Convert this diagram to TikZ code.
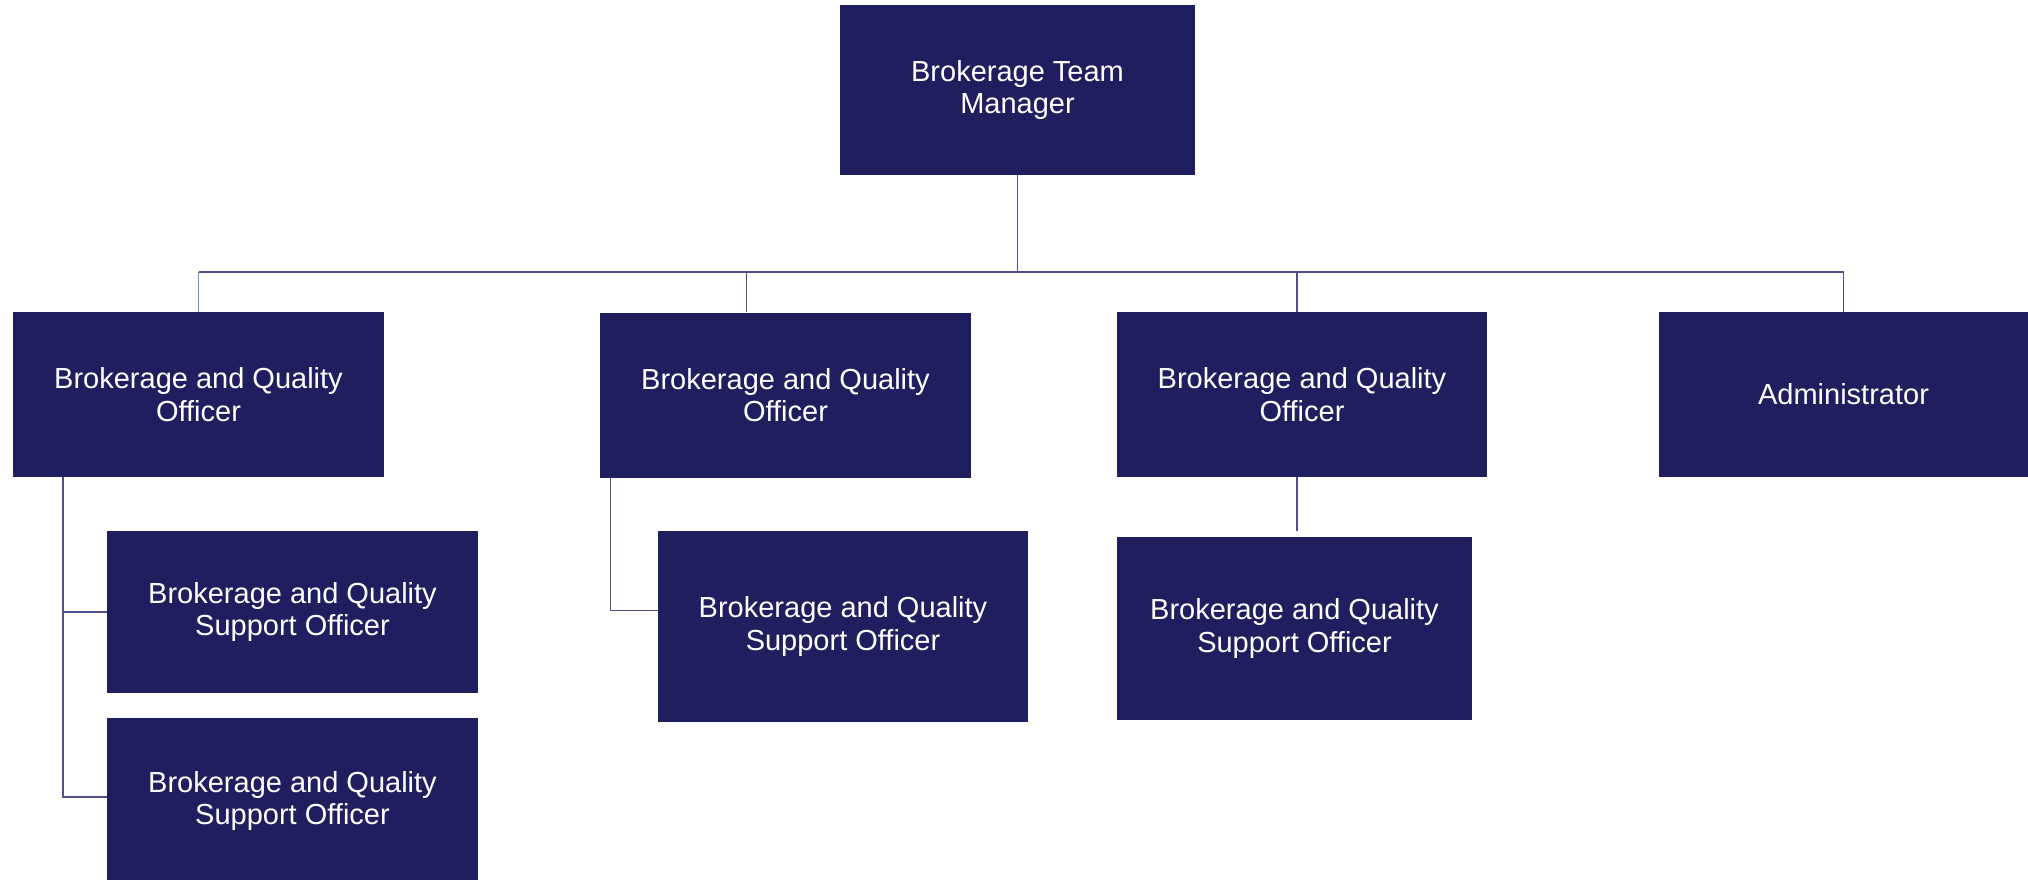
\documentclass[tikz,border=0pt]{standalone}
\usepackage{fontspec}
\setmainfont{Liberation Sans}
\usetikzlibrary{calc}
\definecolor{navy}{RGB}{31,31,96}
\definecolor{linec}{RGB}{78,80,140}
\definecolor{lightc}{RGB}{91,155,213}
\begin{document}
\begin{tikzpicture}[x=1pt,y=-1pt,
  box/.style={fill=navy,text=white,align=center,inner sep=0pt,draw=none,
    font=\fontsize{29}{32.5}\selectfont},
  conn/.style={draw=linec,line width=1.5pt}]
\useasboundingbox (0,0) rectangle (2028,879);
% boxes
\node[box,minimum width=355,minimum height=170] (mgr) at (1017.5,90) {Brokerage Team\\Manager};
\node[box,minimum width=371,minimum height=165] (o1) at (198.5,394.5) {Brokerage and Quality\\Officer};
\node[box,minimum width=371,minimum height=165] (o2) at (785.5,395) {Brokerage and Quality\\Officer};
\node[box,minimum width=370,minimum height=165] (o3) at (1302,394.5) {Brokerage and Quality\\Officer};
\node[box,minimum width=369,minimum height=165] (adm) at (1843.5,394.5) {Administrator};
\node[box,minimum width=371,minimum height=162] (s1) at (292.5,612) {Brokerage and Quality\\Support Officer};
\node[box,minimum width=371,minimum height=166] (s2) at (292.5,801) {Brokerage and Quality\\Support Officer};
\node[box,minimum width=370,minimum height=191] (s3) at (843,626.5) {Brokerage and Quality\\Support Officer};
\node[box,minimum width=355,minimum height=183] (s4) at (1294.5,628.5) {Brokerage and Quality\\Support Officer};
% coordinates
\coordinate (bus) at (1017.5,272);
\coordinate (b1) at (198.5,272);
\coordinate (b2) at (746.5,272);
\coordinate (b3) at (1297,272);
\coordinate (b4) at (1843.5,272);
\coordinate (l1) at (63,477);
\coordinate (l2) at (610.5,477);
\coordinate (l3) at (1297,477);
\coordinate (e3) at (1297,531);
% connectors
\draw[conn] (mgr.south) -- (bus);
\draw[conn] (b1) -- (b4);
\draw[draw=lightc,line width=1.5pt] (b1) -- (b1 |- o1.north);
\draw[conn] (b2) -- (b2 |- o2.north);
\draw[conn] (b3) -- (b3 |- o3.north);
\draw[conn] (b4) -- (adm.north);
\draw[conn] (l1) |- (s1.west);
\draw[conn] (l1) |- (s2.west |- 0,797);
\draw[conn] (l2) |- (s3.west |- 0,610.5);
\draw[conn] (l3) -- (e3);
\end{tikzpicture}
\end{document}
